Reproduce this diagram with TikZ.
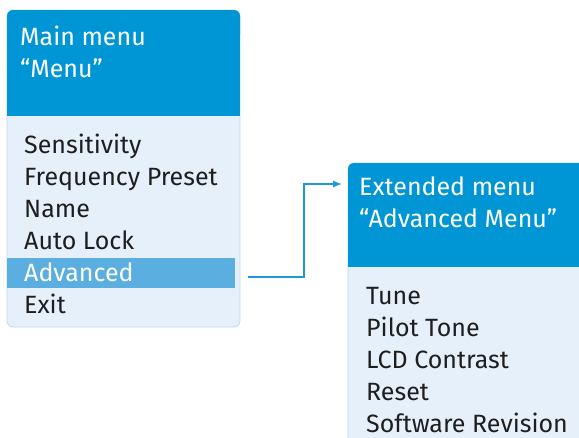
\documentclass[tikz,border=0pt]{standalone}
\usepackage{fontspec}
\setmainfont{Fira Sans}
\usetikzlibrary{arrows.meta}
\definecolor{hdr}{HTML}{0096D6}
\definecolor{bodyc}{HTML}{E6F0FA}
\definecolor{hil}{HTML}{5AAFE0}
\definecolor{brd}{HTML}{B8DAF2}
\definecolor{txt}{HTML}{1E1E1E}
\definecolor{arr}{HTML}{1E98D8}
\tikzset{
  item/.style={anchor=base west,inner sep=0pt,text=txt,font=\fontsize{25}{28}\selectfont},
  title/.style={anchor=base west,inner sep=0pt,text=white,font=\fontsize{25}{28}\selectfont},
  conn/.style={draw=arr,line width=1.3pt,-{Latex[length=9pt,width=7pt]}}
}
\begin{document}
\begin{tikzpicture}[x=1pt,y=-1pt]
\useasboundingbox (0,0) rectangle (579,437);
\clip (0,0) rectangle (579,437);
% left box
\fill[bodyc,draw=brd,line width=0.8pt,rounded corners=6pt] (7,10) rectangle (240,327);
\fill[hdr,rounded corners=6pt] (7,10) rectangle (240,40);
\fill[hdr] (7,30) rectangle (240,116);
\fill[hil] (7,258) rectangle (235,288);
\node[title] (t1) at (20,45) {Main menu};
\node[title] (t2) at (20,77) {“Menu”};
\node[item] (a1) at (24,153) {Sensitivity};
\node[item] (a2) at (24,185) {Frequency Preset};
\node[item] (a3) at (24,217) {Name};
\node[item] (a4) at (24,249) {Auto Lock};
\node[item,text=white] (a5) at (24,281) {Advanced};
\node[item] (a6) at (24,313) {Exit};
% right box
\fill[bodyc,draw=brd,line width=0.8pt,rounded corners=6pt] (348,163) rectangle (600,460);
\fill[hdr,rounded corners=6pt] (348,163) rectangle (600,200);
\fill[hdr] (348,190) rectangle (600,267);
\node[title] (t3) at (359,195) {Extended menu};
\node[title] (t4) at (359,227) {“Advanced Menu”};
\node[item] (b1) at (366,304) {Tune};
\node[item] (b2) at (366,336) {Pilot Tone};
\node[item] (b3) at (366,368) {LCD Contrast};
\node[item] (b4) at (366,400) {Reset};
\node[item] (b5) at (366,432) {Software Revision};
% connector
\coordinate (s) at (248,277);
\coordinate (e) at (342,184);
\draw[conn] (s) -- (304,277) -- (304,184) -- (e);
\end{tikzpicture}
\end{document}
